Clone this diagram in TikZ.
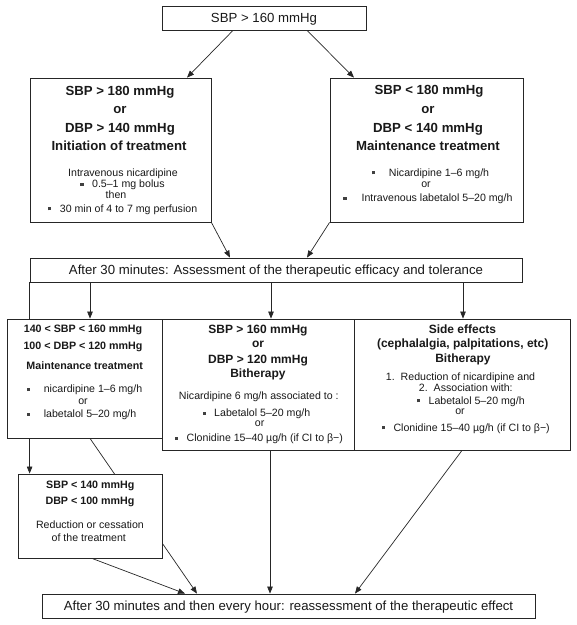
\documentclass[tikz,border=0pt]{standalone}
\usepackage{fontspec}
\setmainfont{Liberation Sans}
\usetikzlibrary{arrows.meta}
\pgfdeclarelayer{bg}
\pgfsetlayers{bg,main}
\newcommand\bulx[1][8.5pt]{{\color{black!75}\rule[1.6pt]{3.2pt}{3.2pt}}\hspace{#1}}
\begin{document}
\begin{tikzpicture}[x=1pt,y=-1pt,
 box/.style={draw=black!85,line width=0.8pt,fill=white,rectangle,inner sep=0pt},
 arr/.style={draw=black!85,line width=0.7pt,-{Triangle[length=7pt,width=5.5pt]}},
 txt/.style={inner sep=0pt,anchor=base,text=black!90},
 hb/.style={txt,font=\fontsize{13.2pt}{15pt}\selectfont\bfseries},
 mbf/.style={txt,font=\fontsize{12pt}{14pt}\selectfont\bfseries},
 sbf/.style={txt,font=\fontsize{10.7pt}{13pt}\selectfont\bfseries},
 sr/.style={txt,font=\fontsize{10.6pt}{13pt}\selectfont},
 bar/.style={box,font=\fontsize{13.2pt}{15pt}\selectfont,text=black!90,text height=9.5pt,text depth=0pt}
]
\useasboundingbox (0,0) rectangle (577,625);

% boxes
\node[bar,minimum width=204pt,minimum height=24pt] (top) at (264,18) {SBP > 160 mmHg};
\node[box,minimum width=181pt,minimum height=144pt] (initbox) at (120.5,150) {};
\node[box,minimum width=193pt,minimum height=144pt] (maintbox) at (426.5,150) {};
\node[bar,minimum width=492pt,minimum height=24pt] (midbar) at (276,270) {After 30 minutes: Assessment of the therapeutic efficacy and tolerance};
\node[box,minimum width=155pt,minimum height=119pt] (lbox) at (84.5,378.5) {};
\node[box,minimum width=192pt,minimum height=131pt] (mbox) at (258,384.5) {};
\node[box,minimum width=216pt,minimum height=131pt] (rbox) at (462,384.5) {};
\node[box,minimum width=144pt,minimum height=84pt] (sbox) at (90,516) {};
\node[bar,minimum width=493pt,minimum height=24pt] (botbar) at (288.5,606) {After 30 minutes and then every hour: reassessment of the therapeutic effect};

% initiation box text
\node[hb] (i1) at (120,95) {SBP > 180 mmHg};
\node[hb] (i2) at (120,113.5) {or};
\node[hb] (i3) at (120,132) {DBP > 140 mmHg};
\node[hb] (i4) at (119,150.5) {Initiation of treatment};
\node[sr] (i5) at (123,176) {Intravenous nicardipine};
\node[sr] (i6) at (122.5,187.5) {\bulx 0.5–1 mg bolus};
\node[sr] (i7) at (116,198.5) {then};
\node[sr] (i8) at (122.7,212) {\bulx 30 min of 4 to 7 mg perfusion};

% maintenance box text
\node[hb] (m1) at (429,94.5) {SBP < 180 mmHg};
\node[hb] (m2) at (428,113.5) {or};
\node[hb] (m3) at (428,132) {DBP < 140 mmHg};
\node[hb] (m4) at (428,150.5) {Maintenance treatment};
\node[sr] (m5) at (430.5,176) {\bulx[11pt] Nicardipine 1–6 mg/h};
\node[sr] (m6) at (426,187.5) {or};
\node[sr] (m7) at (428,201.5) {\bulx[12pt] Intravenous labetalol 5–20 mg/h};

% left lower box text
\node[sbf] (l1) at (83,332.5) {140 < SBP < 160 mmHg};
\node[sbf] (l2) at (83,349) {100 < DBP < 120 mmHg};
\node[sbf] (l3) at (84.7,369.3) {Maintenance treatment};
\node[sr,anchor=base west] (l4) at (27,392.7) {\bulx[10.5pt] nicardipine 1–6 mg/h};
\node[sr] (l5) at (83,404) {or};
\node[sr,anchor=base west] (l6) at (27,417.3) {\bulx[10.5pt] labetalol 5–20 mg/h};

% middle lower box text
\node[mbf] (c1) at (258,333.5) {SBP > 160 mmHg};
\node[mbf] (c2) at (258,347.5) {or};
\node[mbf] (c3) at (258,363) {DBP > 120 mmHg};
\node[mbf] (c4) at (258,377.5) {Bitherapy};
\node[sr] (c5) at (258.8,399.5) {Nicardipine 6 mg/h associated to :};
\node[sr] (c6) at (256.4,416.5) {\bulx Labetalol 5–20 mg/h};
\node[sr] (c7) at (259.7,426.7) {or};
\node[sr] (c8) at (259,441.5) {\bulx Clonidine 15–40 µg/h (if CI to β−)};

% right lower box text
\node[mbf] (r1) at (462.5,333.5) {Side effects};
\node[mbf] (r2) at (462.7,347.5) {(cephalalgia, palpitations, etc)};
\node[mbf] (r3) at (463,362.5) {Bitherapy};
\node[sr] (r4) at (460.5,380) {1.\hspace{6pt}Reduction of nicardipine and};
\node[sr] (r5) at (465.8,391.7) {2.\hspace{6pt}Association with:};
\node[sr] (r6) at (470.8,404) {\bulx Labetalol 5–20 mg/h};
\node[sr] (r7) at (460,414) {or};
\node[sr] (r8) at (465.8,431) {\bulx Clonidine 15–40 µg/h (if CI to β−)};

% small box text
\node[sbf] (s1) at (90.3,488.3) {SBP < 140 mmHg};
\node[sbf] (s2) at (90,504.3) {DBP < 100 mmHg};
\node[sr] (s3) at (90,528.3) {Reduction or cessation};
\node[sr] (s4) at (88.8,541.7) {of the treatment};

% connectors
\begin{pgfonlayer}{bg}
\draw[arr] ([xshift=-31pt]top.south) -- ([xshift=66.5pt]initbox.north);
\draw[arr] ([xshift=43pt]top.south) -- ([xshift=-72.5pt]maintbox.north);
\draw[arr] (initbox.south east) -- ([xshift=-46pt]midbar.north);
\draw[arr] (maintbox.south west) -- ([xshift=31pt]midbar.north);
\draw[arr] ([xshift=-186pt]midbar.south) -- ([xshift=-186pt]midbar.south |- lbox.north);
\draw[arr] ([xshift=-5pt]midbar.south) -- ([xshift=-5pt]midbar.south |- mbox.north);
\draw[arr] ([xshift=187pt]midbar.south) -- ([xshift=187pt]midbar.south |- rbox.north);
\draw[arr] (midbar.south west) -- (midbar.south west |- sbox.north);
\draw[arr] ([xshift=5.5pt]lbox.south) -- ([xshift=-91.5pt]botbar.north);
\draw[arr] ([xshift=2pt]sbox.south) -- ([xshift=-103.5pt]botbar.north);
\draw[arr] ([xshift=12pt]mbox.south) -- ([xshift=12pt]mbox.south |- botbar.north);
\draw[arr] (rbox.south) -- ([xshift=66.5pt]botbar.north);
\end{pgfonlayer}
\end{tikzpicture}
\end{document}
